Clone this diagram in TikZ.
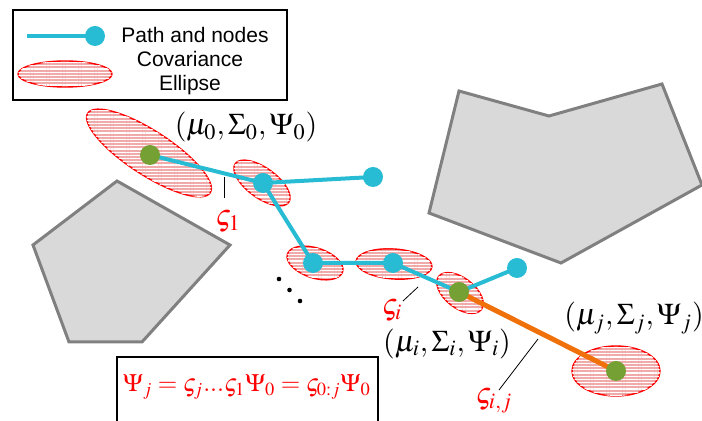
\documentclass[tikz,border=0pt]{standalone}
\usepackage{mathptmx}
\usepackage[no-math]{fontspec}
\newfontfamily\legendfont{Liberation Sans}
\usetikzlibrary{patterns.meta}
\definecolor{pathcyan}{RGB}{40,188,212}
\definecolor{meangreen}{RGB}{116,160,52}
\definecolor{steporange}{RGB}{240,112,10}
\definecolor{obsfill}{RGB}{217,217,217}
\definecolor{obsgray}{RGB}{128,128,128}
\definecolor{ellpink}{RGB}{240,170,170}
\tikzset{
  covell/.style={draw=red, line width=0.7pt, fill=ellpink,
    postaction={pattern={Lines[angle=0,distance=1.6pt,line width=0.6pt]}, pattern color=white}},
  pathnode/.style={circle, fill=pathcyan, inner sep=0pt, minimum size=10pt},
  meannode/.style={circle, fill=meangreen, inner sep=0pt, minimum size=10pt},
  obstacle/.style={draw=obsgray, fill=obsfill, line width=1.5pt},
  pathline/.style={pathcyan, line width=2pt},
  stepline/.style={steporange, line width=2.5pt},
  triple/.style={inner sep=0pt, font=\fontsize{15}{17}\selectfont},
  covtext/.style={red, inner sep=0pt, font=\fontsize{15}{17}\selectfont},
  legtext/.style={font=\legendfont\fontsize{10.5}{12}\selectfont}
}
\begin{document}
\begin{tikzpicture}[x=0.5pt,y=0.5pt]
        \useasboundingbox (0,0) rectangle (702,-421);
        % obstacles
        \draw [obstacle] (117,-181) -- (230,-245) -- (142,-342) -- (69,-342) -- (33,-245) -- cycle;
        \draw [obstacle] (459,-91) -- (549,-116) -- (662,-84) -- (702,-185) -- (561,-263) -- (429,-213) -- cycle;
        % means along the path
        \coordinate (m0) at (150,-155);
        \coordinate (m1) at (263,-183);
        \coordinate (b1) at (373,-177);
        \coordinate (m2) at (313,-263);
        \coordinate (m3) at (393,-263);
        \coordinate (mi) at (459,-292);
        \coordinate (bi) at (517,-268);
        \coordinate (mj) at (616,-371);
        % covariance ellipses
        \draw [covell] (149,-153) ellipse [x radius=73, y radius=22, rotate=-33];
        \draw [covell] (262,-183) ellipse [x radius=33, y radius=15, rotate=-36];
        \draw [covell] (315,-263) ellipse [x radius=29, y radius=15, rotate=-18];
        \draw [covell] (394,-264) ellipse [x radius=38, y radius=15, rotate=-4];
        \draw [covell] (460,-293) ellipse [x radius=27, y radius=15, rotate=-38];
        \draw [covell] (616,-371) ellipse [x radius=44, y radius=25];
        % path
        \draw [pathline] (m0) -- (m1) -- (b1);
        \draw [pathline] (m1) -- (m2) -- (m3) -- (mi) -- (bi);
        \draw [stepline] (mi) -- (mj);
        \node [meannode] (n0) at (m0) {};
        \node [pathnode] (n1) at (m1) {};
        \node [pathnode] (nb1) at (b1) {};
        \node [pathnode] (n2) at (m2) {};
        \node [pathnode] (n3) at (m3) {};
        \node [meannode] (ni) at (mi) {};
        \node [pathnode] (nbi) at (bi) {};
        \node [meannode] (nj) at (mj) {};
        \foreach \d in {0,1,2} \fill (279+10.5*\d,-279-11*\d) circle [radius=2.3];
        % labels
        \node [triple] (t0) at (246,-127) {$(\mu_0,\Sigma_0,\Psi_0)$};
        \node [triple] (ti) at (447,-344) {$(\mu_i,\Sigma_i,\Psi_i)$};
        \node [triple, anchor=west] (tj) at (564,-318) {$(\mu_j,\Sigma_j,\Psi_j)$};
        \node [covtext] (s1) at (228,-222) {$\varsigma_1$};
        \draw (224,-177) -- (224,-198);
        \node [covtext] (si) at (392,-311) {$\varsigma_i$};
        \draw (403,-301) -- (418,-287);
        \node [covtext] (sij) at (494,-401) {$\varsigma_{i,j}$};
        \draw (499,-390) -- (538,-339);
        % formula
        \draw [line width=1pt] (117,-430) -- (117,-357) -- (378,-357) -- (378,-430);
        \node [covtext, font=\fontsize{12.5}{14}\selectfont] (psi) at (247,-387) {$\Psi_j=\varsigma_j...\varsigma_1\Psi_0=\varsigma_{0:j}\Psi_0$};
        % legend
        \draw [line width=1pt] (13,-10) rectangle (287,-100);
        \draw [pathline] (27,-36) -- (95,-36) node [pathnode] (lg) {};
        \draw [covell] (65,-74) ellipse [x radius=47, y radius=13];
        \node [legtext] (lp) at (195,-35) {Path and nodes};
        \node [legtext, align=center] (lc) at (190,-73) {Covariance\\Ellipse};
    \end{tikzpicture}
\end{document}
